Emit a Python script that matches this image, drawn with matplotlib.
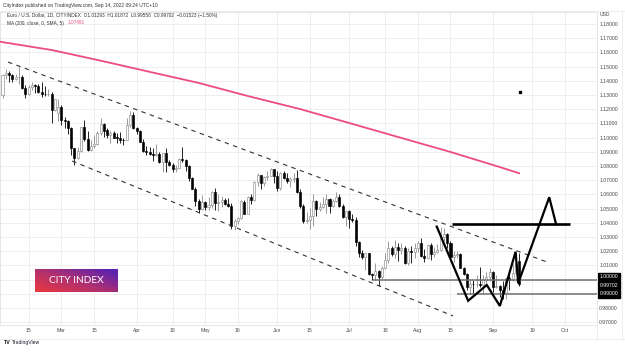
import matplotlib.pyplot as plt
import numpy as np
import pandas as pd
from matplotlib.colors import LinearSegmentedColormap
from matplotlib.lines import Line2D

plt.rcParams['font.family'] = ['Liberation Sans', 'DejaVu Sans']

# EUR/USD daily candles, 2022-02-03 .. 2022-09-13 (weekdays)
start_date = '2022-02-03'
opens = [
    1.1301, 1.1440, 1.1454, 1.1441, 1.1414, 1.1424, 1.1426, 1.1350, 1.1306, 1.1357, 1.1372, 1.1362, 1.1322, 1.1310, 1.1307, 1.1308, 1.1197, 1.1175,
    1.1219, 1.1125, 1.1120, 1.1065, 1.0929, 1.0855, 1.0904, 1.1073, 1.0987, 1.0912, 1.0940, 1.0955, 1.1034, 1.1093, 1.1050, 1.1015, 1.1030, 1.1000, 1.0998, 1.0985, 1.0982, 1.1087, 1.1160,
    1.1067, 1.1046, 1.0970, 1.0904, 1.0902, 1.0883, 1.0875, 1.0888, 1.0828, 1.0890, 1.0826, 1.0810, 1.0780, 1.0787, 1.0852, 1.0840, 1.0797, 1.0715, 1.0640, 1.0555, 1.0500,
    1.0545, 1.0508, 1.0525, 1.0620, 1.0540, 1.0550, 1.0560, 1.0530, 1.0515, 1.0380, 1.0410, 1.0435, 1.0550, 1.0465, 1.0585, 1.0562, 1.0690, 1.0735, 1.0680, 1.0725, 1.0733, 1.0778,
    1.0733, 1.0645, 1.0750, 1.0718, 1.0696, 1.0705, 1.0715, 1.0615, 1.0515, 1.0410, 1.0420, 1.0445, 1.0550, 1.0495, 1.0510, 1.0535, 1.0565, 1.0520, 1.0555, 1.0585, 1.0520, 1.0440,
    1.0485, 1.0425, 1.0422, 1.0265, 1.0185, 1.0160, 1.0185, 1.0040, 1.0035, 1.0060, 1.0015, 1.0080, 1.0140, 1.0225, 1.0180, 1.0230, 1.0210, 1.0225, 1.0120, 1.0200, 1.0195,
    1.0220, 1.0260, 1.0165, 1.0150, 1.0245, 1.0180, 1.0195, 1.0210, 1.0300, 1.0320, 1.0260, 1.0160, 1.0170, 1.0180, 1.0085, 1.0040, 0.9945, 0.9970, 0.9968, 0.9970, 0.9965, 1.0000, 1.0020,
    1.0055, 0.9945, 0.9955, 0.9930, 0.9905, 1.0010, 0.9995, 1.0045, 1.01293,
]
highs = [
    1.1450, 1.1483, 1.1470, 1.1448, 1.1449, 1.1495, 1.1441, 1.1369, 1.1367, 1.1395, 1.1378, 1.1375, 1.1395, 1.1360, 1.1343, 1.1324, 1.1274, 1.1275,
    1.1233, 1.1144, 1.1123, 1.1073, 1.0930, 1.0933, 1.1075, 1.1121, 1.1043, 1.0985, 1.1017, 1.1043, 1.1137, 1.1100, 1.1067, 1.1045, 1.1045, 1.1029, 1.1036, 1.0997, 1.1137, 1.1185, 1.1183,
    1.1076, 1.1051, 1.0990, 1.0944, 1.0937, 1.0925, 1.0955, 1.0898, 1.0895, 1.0924, 1.0840, 1.0823, 1.0806, 1.0856, 1.0936, 1.0852, 1.0804, 1.0726, 1.0655, 1.0567, 1.0594,
    1.0552, 1.0580, 1.0625, 1.0642, 1.0600, 1.0590, 1.0576, 1.0577, 1.0540, 1.0425, 1.0443, 1.0560, 1.0564, 1.0590, 1.0600, 1.0695, 1.0749, 1.0740, 1.0730, 1.0765, 1.0787, 1.0780,
    1.0765, 1.0755, 1.0765, 1.0752, 1.0720, 1.0750, 1.0775, 1.0640, 1.0530, 1.0478, 1.0505, 1.0600, 1.0560, 1.0545, 1.0583, 1.0605, 1.0575, 1.0570, 1.0615, 1.0605, 1.0535, 1.0486,
    1.0487, 1.0463, 1.0440, 1.0275, 1.0210, 1.0190, 1.0190, 1.0050, 1.0120, 1.0070, 1.0095, 1.0185, 1.0270, 1.0235, 1.0278, 1.0255, 1.0255, 1.0237, 1.0220, 1.0235, 1.0255,
    1.0275, 1.0295, 1.0215, 1.0250, 1.0255, 1.0230, 1.0250, 1.0368, 1.0365, 1.0330, 1.0270, 1.0200, 1.0200, 1.0185, 1.0090, 1.0050, 0.9995, 0.9999, 1.0030, 1.0090, 1.0030, 1.0055, 1.0080,
    1.0060, 1.0035, 0.9960, 0.9990, 1.0015, 1.0030, 1.0110, 1.0197, 1.01872,
]
lows = [
    1.1281, 1.1410, 1.1393, 1.1390, 1.1405, 1.1376, 1.1344, 1.1280, 1.1300, 1.1333, 1.1314, 1.1315, 1.1285, 1.1290, 1.1290, 1.1106, 1.1185, 1.1120,
    1.1091, 1.1066, 1.1028, 1.0878, 1.0806, 1.0850, 1.0900, 1.0975, 1.0903, 1.0905, 1.0925, 1.0950, 1.1020, 1.1006, 1.1000, 1.0961, 1.0995, 1.0963, 1.0965, 1.0945, 1.0980, 1.1075, 1.1060,
    1.1028, 1.0967, 1.0900, 1.0875, 1.0880, 1.0837, 1.0870, 1.0820, 1.0757, 1.0757, 1.0800, 1.0761, 1.0760, 1.0784, 1.0830, 1.0768, 1.0697, 1.0638, 1.0515, 1.0470, 1.0489,
    1.0493, 1.0490, 1.0505, 1.0493, 1.0483, 1.0510, 1.0528, 1.0510, 1.0353, 1.0349, 1.0390, 1.0430, 1.0460, 1.0460, 1.0530, 1.0555, 1.0660, 1.0640, 1.0660, 1.0700, 1.0730, 1.0680,
    1.0627, 1.0630, 1.0710, 1.0680, 1.0655, 1.0690, 1.0610, 1.0505, 1.0400, 1.0400, 1.0359, 1.0380, 1.0445, 1.0480, 1.0505, 1.0470, 1.0470, 1.0510, 1.0550, 1.0510, 1.0435, 1.0380,
    1.0365, 1.0405, 1.0235, 1.0161, 1.0145, 1.0070, 1.0035, 0.9998, 0.9998, 0.9952, 1.0005, 1.0075, 1.0120, 1.0165, 1.0155, 1.0130, 1.0180, 1.0110, 1.0100, 1.0115, 1.0150,
    1.0195, 1.0160, 1.0125, 1.0145, 1.0140, 1.0160, 1.0190, 1.0200, 1.0275, 1.0225, 1.0155, 1.0122, 1.0150, 1.0080, 1.0030, 0.9925, 0.9899, 0.9905, 0.9945, 0.9945, 0.9900, 0.9975, 0.9990,
    0.9910, 0.9940, 0.9875, 0.9865, 0.9865, 0.9930, 0.9990, 1.0040, 0.99558,
]
closes = [
    1.1440, 1.1454, 1.1441, 1.1414, 1.1424, 1.1426, 1.1350, 1.1306, 1.1357, 1.1372, 1.1362, 1.1322, 1.1310, 1.1307, 1.1308, 1.1197, 1.1270, 1.1219,
    1.1125, 1.1120, 1.1065, 1.0929, 1.0855, 1.0904, 1.1073, 1.0987, 1.0912, 1.0940, 1.0955, 1.1034, 1.1093, 1.1050, 1.1015, 1.1030, 1.1000, 1.0998, 1.0985, 1.0982, 1.1087, 1.1160, 1.1067,
    1.1046, 1.0970, 1.0904, 1.0902, 1.0883, 1.0875, 1.0888, 1.0828, 1.0890, 1.0826, 1.0810, 1.0780, 1.0787, 1.0852, 1.0840, 1.0797, 1.0715, 1.0640, 1.0555, 1.0500, 1.0545,
    1.0508, 1.0525, 1.0620, 1.0540, 1.0550, 1.0560, 1.0530, 1.0515, 1.0380, 1.0410, 1.0435, 1.0550, 1.0465, 1.0585, 1.0562, 1.0690, 1.0735, 1.0680, 1.0725, 1.0733, 1.0778, 1.0733,
    1.0645, 1.0750, 1.0718, 1.0696, 1.0705, 1.0715, 1.0615, 1.0515, 1.0410, 1.0420, 1.0445, 1.0550, 1.0495, 1.0510, 1.0535, 1.0565, 1.0520, 1.0555, 1.0585, 1.0520, 1.0440, 1.0485,
    1.0425, 1.0422, 1.0265, 1.0185, 1.0160, 1.0185, 1.0040, 1.0035, 1.0060, 1.0015, 1.0080, 1.0140, 1.0225, 1.0180, 1.0230, 1.0210, 1.0225, 1.0120, 1.0200, 1.0195, 1.0220,
    1.0260, 1.0165, 1.0150, 1.0245, 1.0180, 1.0195, 1.0210, 1.0300, 1.0320, 1.0260, 1.0160, 1.0170, 1.0180, 1.0085, 1.0040, 0.9945, 0.9970, 0.9968, 0.9970, 0.9965, 1.0000, 1.0020, 1.0055,
    0.9945, 0.9955, 0.9930, 0.9905, 1.0010, 0.9995, 1.0045, 1.0120, 0.99702,
]

# MA(200) at some bar indices
ma_idx = [-1, 15, 30, 45, 60, 75, 91, 106, 121, 137, 152, 158]
ma_vals = [1.1676, 1.1617, 1.1542, 1.1463, 1.1385, 1.1293, 1.1201, 1.1103, 1.1004, 1.0899, 1.0793, 1.07491]

# drawings (bar index, price)
upper_chan_x = [1.7, 166.5]
upper_chan_y = [1.1532, 1.0124]
lower_chan_x = [21.3, 137.8]
lower_chan_y = [1.0835, 0.9744]
proj_x = [132.8, 142.4, 148.1, 152.1, 156.9, 157.7, 167.2, 169.3]
proj_y = [1.0373, 0.9851, 0.9962, 0.9814, 1.0196, 0.9974, 1.0580, 1.0389]
target_x = [137.4, 173.5]
target_y = 1.0389
support_levels = [1.0000, 0.9900]
support_start = [113.3, 138.9]
last_price = 0.99702

tick_dates = ['2022-02-15', '2022-03-01', '2022-03-15', '2022-04-01', '2022-04-18', '2022-05-02',
              '2022-05-16', '2022-06-01', '2022-06-15', '2022-07-01', '2022-07-18', '2022-08-01',
              '2022-08-15', '2022-09-01', '2022-09-19', '2022-10-03']
tick_labels = ['15', 'Mar', '15', 'Apr', '18', 'May', '16', 'Jun', '15', 'Jul', '18', 'Aug',
               '15', 'Sep', '19', 'Oct']
price_ticks = np.round(np.arange(0.97, 1.1801, 0.01), 2)

W, H = 625, 352
fig = plt.figure(figsize=(W / 100, H / 100), dpi=100)
fig.patch.set_facecolor('white')
ax = fig.add_axes([0, (H - 325) / H, 597 / W, (325 - 12) / H])

dates = pd.bdate_range(start_date, periods=len(closes) + 40)
x = np.arange(len(closes))
o, h, l, c = map(np.array, (opens, highs, lows, closes))
up = c >= o

# candles
up_col, dn_col = '#8a8a8a', '#000000'
ax.vlines(x[up], l[up], h[up], color=up_col, lw=0.6, zorder=2)
ax.vlines(x[~up], l[~up], h[~up], color=dn_col, lw=0.6, zorder=2)
body_lo = np.minimum(o, c)
body_h = np.maximum(np.abs(c - o), 0.0003)
ax.bar(x[up], body_h[up], bottom=body_lo[up], width=0.62, color='white',
       edgecolor=up_col, linewidth=0.45, zorder=3)
ax.bar(x[~up], body_h[~up], bottom=body_lo[~up], width=0.62, color=dn_col,
       edgecolor=dn_col, linewidth=0.45, zorder=3)

# moving average
ax.plot(ma_idx, ma_vals, color='#ee4b86', lw=1.3, zorder=4)

# channel
ax.plot(upper_chan_x, upper_chan_y, color='#333333', lw=0.8, ls=(0, (4, 4)), zorder=4)
ax.plot(lower_chan_x, lower_chan_y, color='#333333', lw=0.8, ls=(0, (4, 4)), zorder=4)

# support lines
xmax = (597 - 2.5) / 3.27
for lvl, xs in zip(support_levels, support_start):
    ax.hlines(lvl, xs, xmax, color='#707070', lw=1.1, zorder=4)

# projection
ax.plot(proj_x, proj_y, color='black', lw=1.6, zorder=6, solid_joinstyle='miter')
ax.hlines(target_y, target_x[0], target_x[1], color='black', lw=1.9, zorder=6)
ax.plot([158.3], [1.1321], marker='s', ms=1.6, color='black', zorder=6)

ax.set_xlim(-2.5 / 3.27, xmax)
ax.set_ylim(1.18 - (325 - 24) / 1420, 1.18 + (24 - 12) / 1420)

tick_pos = [dates.get_loc(pd.Timestamp(d)) for d in tick_dates]
ax.set_xticks(tick_pos)
ax.set_xticklabels(tick_labels)
ax.set_yticks(price_ticks)
ax.set_yticklabels([f'{v:.5f}' for v in price_ticks])
ax.yaxis.tick_right()
ax.tick_params(axis='both', length=0, labelsize=3.7, colors='#4a4a4a')
ax.tick_params(axis='x', pad=2.0)
ax.tick_params(axis='y', pad=1.6)
ax.grid(True, color='#ececec', lw=0.6, zorder=0)
ax.set_axisbelow(True)
for s in ax.spines.values():
    s.set_color('#e2e2e2')
    s.set_linewidth(0.6)

# price labels on the scale
ytr = ax.get_yaxis_transform()
box = dict(boxstyle='square,pad=0.25', fc='black', ec='black')
for val, dy in [(1.0000, 2.2), (last_price, -1.0), (0.9900, 0.0)]:
    ax.annotate(f'{val:.5f}', xy=(1, val), xycoords=ytr, xytext=(1.9, dy),
                textcoords='offset points', fontsize=3.7, color='white',
                va='center', ha='left', bbox=box, annotation_clip=False, zorder=10)

fig.text(600 / W, 1 - 14 / H, 'USD', fontsize=3.6, color='#4a4a4a', va='center')

# header / legend
fig.text(3 / W, 1 - 5.5 / H, 'CityIndex published on TradingView.com, Sep 14, 2022 09:24 UTC+10',
         fontsize=3.55, color='#333333', va='center')
fig.text(7 / W, 1 - 15.7 / H,
         'Euro / U.S. Dollar, 1D, CITYINDEX  O1.01293  H1.01872  L0.99558  C0.99702  \u22120.01523 (\u22121.50%)',
         fontsize=3.4, color='#333333', va='center')
fig.text(7 / W, 1 - 23 / H, 'MA (200, close, 0, SMA, 5)', fontsize=3.4, color='#333333', va='center')
fig.text(68 / W, 1 - 23 / H, '1.07491', fontsize=3.4, color='#ee4b86', va='center')

# frame lines
for xs, ys in [([0, 1], [1 - 11 / H] * 2), ([0, 1], [1 - 339 / H] * 2),
               ([597 / W] * 2, [1 - 11 / H, 1 - 339 / H]), ([622 / W] * 2, [1 - 11 / H, 1 - 339 / H])]:
    fig.add_artist(Line2D(xs, ys, color='#e6e6e6', lw=0.5))

# TradingView footer
fig.text(4 / W, 1 - 342.5 / H, 'TV', fontsize=3.8, fontweight='bold', color='#131722', va='center')
fig.text(11.5 / W, 1 - 342.5 / H, 'TradingView', fontsize=3.6, color='#131722', va='center')

# City Index logo
lax = fig.add_axes([35 / W, (H - 292) / H, 83 / W, 23 / H])
gx, gy = np.meshgrid(np.linspace(0, 1, 60), np.linspace(0, 1, 20))
cmap = LinearSegmentedColormap.from_list('ci', ['#e8393f', '#b2306f', '#5a22b0'])
lax.imshow(0.65 * gx + 0.55 * (1 - gy), cmap=cmap, aspect='auto', origin='upper',
           extent=[0, 1, 0, 1], vmin=0, vmax=1.1, zorder=0)
lax.text(0.5, 0.48, 'CITY INDEX', color='white', fontsize=7.3, ha='center', va='center',
         family=['Lato', 'DejaVu Sans'], fontweight='normal', zorder=5)
lax.set_axis_off()

fig.savefig('out.png', dpi=100, facecolor='white')
